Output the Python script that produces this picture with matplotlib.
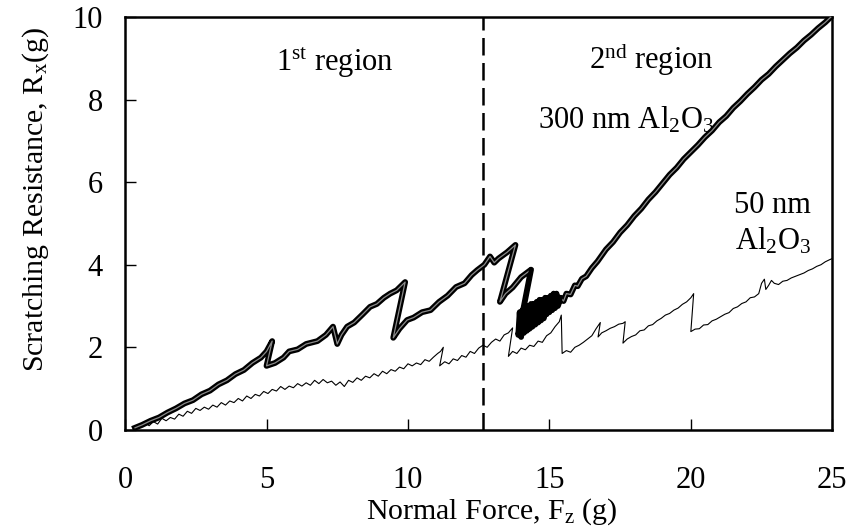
import numpy as np
import matplotlib
matplotlib.use("Agg")
import matplotlib.pyplot as plt

plt.rcParams['font.family'] = ['Liberation Serif', 'DejaVu Serif']
plt.rcParams['mathtext.fontset'] = 'custom'
plt.rcParams['mathtext.rm'] = 'Liberation Serif'
plt.rcParams['mathtext.it'] = 'Liberation Serif:italic'

# 300 nm Al2O3 coating: normal force (g) vs scratching resistance (g)
fz_300 = [0.35, 0.6, 0.9, 1.2, 1.5, 1.8, 2.1, 2.4, 2.7, 3.0, 3.3, 3.6, 3.9, 4.2, 4.5, 4.8, 5.0, 5.2,
          5.0, 5.3, 5.6, 5.8, 6.1, 6.4, 6.8, 7.1, 7.35, 7.5, 7.65, 7.85, 8.1, 8.4, 8.66, 8.9, 9.15, 9.37, 9.6, 9.9,
          9.48, 9.7, 9.97, 10.2, 10.5, 10.8, 11.1, 11.4, 11.7, 12.0, 12.25, 12.45, 12.7, 12.9, 13.05, 13.2, 13.5, 13.8,
          13.25, 13.45, 13.7, 14.0, 14.35,
          13.9, 13.95, 14.0, 14.05, 14.1, 14.15, 14.2, 14.25, 14.3, 14.35, 14.4, 14.45, 14.5, 14.55, 14.6, 14.65,
          14.7, 14.75, 14.8, 14.85, 14.9, 14.95, 15.0, 15.05, 15.1, 15.15, 15.2, 15.25, 15.3,
          15.4, 15.5, 15.6, 15.75, 15.9, 16.0, 16.15, 16.3, 16.5, 16.7, 17.0, 17.25, 17.5, 17.75, 18.0, 18.25,
          18.5, 18.75, 19.0, 19.25, 19.5, 19.75, 20.0, 20.25, 20.5, 20.75, 21.0, 21.25, 21.5, 21.75, 22.0,
          22.25, 22.5, 22.75, 23.0, 23.25, 23.5, 23.75, 24.0, 24.25, 24.5, 24.75, 24.95]
rx_300 = [0.05, 0.12, 0.22, 0.3, 0.42, 0.52, 0.64, 0.72, 0.86, 0.95, 1.1, 1.2, 1.35, 1.45, 1.62, 1.75, 1.9, 2.15,
          1.55, 1.62, 1.75, 1.9, 1.95, 2.08, 2.15, 2.3, 2.5, 2.08, 2.3, 2.5, 2.6, 2.8, 2.98, 3.05, 3.2, 3.3, 3.38, 3.58,
          2.23, 2.45, 2.66, 2.72, 2.85, 2.9, 3.1, 3.25, 3.46, 3.55, 3.75, 3.87, 4.0, 4.2, 4.05, 4.15, 4.3, 4.48,
          3.1, 3.3, 3.45, 3.7, 3.88,
          2.3, 2.85, 2.25, 2.9, 2.35, 2.95, 2.4, 3.0, 2.45, 3.05, 2.5, 3.05, 2.55, 3.1, 2.6, 3.15,
          2.65, 3.15, 2.7, 3.2, 2.8, 3.2, 2.85, 3.25, 2.9, 3.3, 2.95, 3.3, 3.0,
          3.2, 3.12, 3.3, 3.28, 3.5, 3.48, 3.66, 3.72, 3.92, 4.08, 4.37, 4.55, 4.78, 4.96, 5.18, 5.36,
          5.58, 5.76, 5.97, 6.18, 6.35, 6.56, 6.73, 6.9, 7.09, 7.25, 7.45, 7.6, 7.8, 7.96, 8.14,
          8.3, 8.48, 8.62, 8.8, 8.96, 9.12, 9.26, 9.43, 9.57, 9.73, 9.87, 10.0]

# 50 nm Al2O3 coating
fz_50 = [0.5, 0.7, 0.85, 1.0, 1.15, 1.3, 1.45, 1.6, 1.75, 1.9, 2.05, 2.2, 2.35, 2.5, 2.65, 2.8, 2.95, 3.1, 3.25,
         3.4, 3.55, 3.7, 3.85, 4.0, 4.15, 4.3, 4.45, 4.6, 4.75, 4.9, 5.05, 5.2, 5.35, 5.5, 5.65, 5.8, 5.95, 6.1,
         6.25, 6.4, 6.55, 6.7, 6.85, 7.0, 7.15, 7.3, 7.45, 7.6, 7.75, 7.9, 8.05, 8.2, 8.35, 8.5, 8.65, 8.8, 8.95,
         9.1, 9.25, 9.4, 9.55, 9.7, 9.85, 10.0, 10.15, 10.3, 10.45, 10.6, 10.75, 10.9, 11.05, 11.15, 11.25, 11.12,
         11.3, 11.45, 11.6, 11.75, 11.9, 12.05, 12.2, 12.35, 12.5, 12.65, 12.8, 12.95, 13.1, 13.25, 13.4, 13.55,
         13.7, 13.55,
         13.7, 13.85, 14.0, 14.15, 14.3, 14.45, 14.6, 14.75, 14.9, 15.05, 15.2, 15.35, 15.42, 15.45,
         15.6, 15.75, 15.9, 16.05, 16.2, 16.35, 16.5, 16.65, 16.8, 16.72, 16.85, 17.0, 17.15, 17.3, 17.45, 17.6,
         17.68, 17.6,
         17.75, 17.9, 18.05, 18.2, 18.35, 18.5, 18.65, 18.8, 18.95, 19.1, 19.25, 19.4, 19.55, 19.7, 19.85, 20.0,
         20.1, 20.0,
         20.15, 20.3, 20.45, 20.6, 20.75, 20.9, 21.05, 21.2, 21.35, 21.5, 21.65, 21.8, 21.95, 22.1, 22.25, 22.4,
         22.5, 22.6, 22.65, 22.75, 22.85, 22.95, 23.1, 23.25, 23.4, 23.55, 23.7, 23.85, 24.0, 24.15, 24.3, 24.45,
         24.6, 24.75, 24.9, 25.0]
rx_50 = [0.05, 0.18, 0.1, 0.2, 0.14, 0.28, 0.22, 0.3, 0.26, 0.38, 0.33, 0.45, 0.4, 0.52, 0.47, 0.55, 0.5, 0.6, 0.55,
         0.66, 0.6, 0.7, 0.66, 0.76, 0.7, 0.82, 0.76, 0.86, 0.82, 0.93, 0.88, 0.98, 0.94, 1.05, 0.98, 1.06, 1.02, 1.12,
         1.06, 1.14, 1.08, 1.2, 1.12, 1.22, 1.14, 1.18, 1.08, 1.16, 1.05, 1.2, 1.15, 1.26, 1.2, 1.3, 1.26, 1.36, 1.3,
         1.42, 1.36, 1.46, 1.42, 1.52, 1.48, 1.6, 1.55, 1.62, 1.58, 1.7, 1.66, 1.76, 1.85, 1.9, 2.0, 1.55,
         1.65, 1.6, 1.72, 1.68, 1.8, 1.76, 1.9, 1.85, 1.98, 2.05, 2.0, 2.12, 2.2, 2.15, 2.3, 2.35,
         2.47, 1.78,
         1.9, 1.85, 1.98, 1.94, 2.05, 2.02, 2.15, 2.12, 2.28, 2.35, 2.5, 2.62, 2.78, 1.85,
         1.92, 1.88, 2.0, 2.05, 2.12, 2.2, 2.28, 2.45, 2.6, 2.25, 2.35, 2.4, 2.46, 2.5, 2.56, 2.58,
         2.62, 2.1,
         2.2, 2.26, 2.3, 2.4, 2.42, 2.52, 2.55, 2.64, 2.7, 2.78, 2.82, 2.9, 2.95, 3.04, 3.1, 3.2,
         3.3, 2.38,
         2.44, 2.45, 2.54, 2.55, 2.64, 2.68, 2.74, 2.8, 2.84, 2.94, 2.98, 3.06, 3.1, 3.2, 3.22, 3.3,
         3.55, 3.65, 3.4, 3.5, 3.62, 3.55, 3.52, 3.6, 3.62, 3.68, 3.72, 3.76, 3.8, 3.86, 3.9, 3.96,
         4.0, 4.07, 4.12, 4.15]

boundary = 12.66

fig = plt.figure(figsize=(8.51, 5.32), dpi=100)
ax = fig.add_axes([0.147, 0.192, 0.831, 0.776])

# thick trace drawn as black band with a grey core
ax.plot(fz_300, rx_300, color='black', lw=4.2, solid_joinstyle='round', zorder=3)
ax.plot(fz_300, rx_300, color='#8a8a8a', lw=0.9, zorder=4)
# the stick-slip burst just after the boundary is solid black
ax.plot(fz_300[60:91], rx_300[60:91], color='black', lw=3.0, zorder=5)
ax.plot(fz_50, rx_50, color='black', lw=0.8, zorder=2)
ax.plot([boundary, boundary], [0, 10], color='black', lw=1.8, dashes=(7, 3), zorder=1)

ax.set_xlim(0, 25)
ax.set_ylim(0, 10)
ax.set_xticks([0, 5, 10, 15, 20, 25])
ax.set_yticks([0, 2, 4, 6, 8, 10])
ax.tick_params(direction='in', length=8, width=1, labelsize=22)
ax.tick_params(axis='x', pad=26)
ax.tick_params(axis='y', pad=16)
for s in ax.spines.values():
    s.set_linewidth(1.8)

ax.set_xlabel(r'Normal Force, F$_\mathregular{z}$ (g)', fontsize=21.5)
ax.set_ylabel(r'Scratching Resistance, R$_\mathregular{x}$(g)', fontsize=21.5)
ax.xaxis.set_label_coords(0.519, -0.16)
ax.yaxis.set_label_coords(-0.105, 0.557)

ax.text(7.4, 8.7, r'1$^\mathregular{st}$ region', fontsize=22, ha='center')
ax.text(18.6, 8.75, r'2$^\mathregular{nd}$ region', fontsize=22, ha='center')
ax.text(17.7, 7.3, r'300 nm Al$_\mathregular{2}$O$_\mathregular{3}$', fontsize=22, ha='center')
ax.text(22.9, 5.25, '50 nm', fontsize=22, ha='center')
ax.text(22.9, 4.36, r'Al$_\mathregular{2}$O$_\mathregular{3}$', fontsize=22, ha='center')

fig.savefig('out.png', dpi=100)
